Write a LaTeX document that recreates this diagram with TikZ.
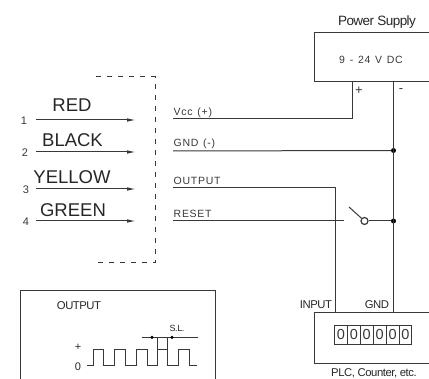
\documentclass[tikz,border=0pt]{standalone}
\usepackage{fontspec}
\setmainfont{Liberation Sans}
\newfontfamily\widefont[LetterSpace=7,WordSpace=1.3]{Liberation Sans}
\newfontfamily\tightfont[LetterSpace=-4]{Liberation Sans}
\usetikzlibrary{arrows.meta}
\definecolor{ink}{gray}{0.22}
\tikzset{
  wire/.style={draw=ink,line width=1pt},
  lead/.style={wire,-{Latex[length=9pt,width=3.5pt]}},
  dashbox/.style={draw=ink,line width=1pt,dash pattern=on 5pt off 6pt},
  boxnode/.style={draw=ink,line width=1pt,anchor=north west,inner sep=0pt,rectangle},
  dotnode/.style={circle,fill=black,inner sep=0pt,minimum size=5pt},
  colour/.style={font=\fontsize{18.5}{20}\selectfont,text=black!85,inner sep=0pt},
  pin/.style={font=\fontsize{11}{12}\selectfont,text=ink,inner sep=0pt},
  signal/.style={font=\widefont\fontsize{10.5}{11}\selectfont,text=ink,inner sep=0pt,anchor=west},
  small/.style={font=\tightfont\fontsize{11.3}{12}\selectfont,text=black!85,inner sep=0pt},
  digit/.style={draw=ink,line width=1pt,minimum width=12.9pt,minimum height=19pt,inner sep=0pt,anchor=north west,font=\fontsize{14.5}{15}\selectfont,text=ink},
}
\begin{document}
\begin{tikzpicture}[x=1pt,y=-1pt]
\useasboundingbox (0,0) rectangle (429,379);
\clip (0,0) rectangle (429,379);
% dashed connector outline
\coordinate (dtl) at (96,77);
\coordinate (dtr) at (155,77);
\coordinate (dbr) at (155,263);
\coordinate (dbl) at (96,263);
\draw[dashbox] (dtl) -- (dtr) -- (dbr) -- (dbl);
% leads
\foreach \n/\y in {1/120,2/152,3/189,4/221}{
  \coordinate (ls\n) at (36,\y);
  \coordinate (le\n) at (136,\y);
  \draw[lead] (ls\n) -- (le\n);
}
\node[pin] (n1) at (24,120.5) {1};
\node[pin] (n2) at (25,153) {2};
\node[pin] (n3) at (26,189.5) {3};
\node[pin] (n4) at (26,221.5) {4};
\node[colour] (red) at (72,105.5) {RED};
\node[colour] (black) at (72.5,140.5) {BLACK};
\node[colour] (yellow) at (72,177.5) {YELLOW};
\node[colour] (green) at (73,210.5) {GREEN};
% signal labels
\node[signal] (vcc) at (173.5,112.5) {Vcc (+)};
\node[signal] (gnd) at (173.5,144) {GND (-)};
\node[signal] (out) at (173.5,180.5) {OUTPUT};
\node[signal] (rst) at (173.5,214) {RESET};
% power supply
\node[boxnode,minimum width=140pt,minimum height=49pt] (ps) at (313.5,32) {};
\node[font=\tightfont\fontsize{13.5}{15}\selectfont,text=black!85,inner sep=0pt] (pst) at (377,22) {Power Supply};
\node[font=\widefont\fontsize{10.5}{12}\selectfont,text=ink,inner sep=0pt] (psv) at (371,60) {9 - 24 V DC};
\node[font=\fontsize{13}{14}\selectfont,text=ink,inner sep=0pt] (pp) at (359,91) {+};
\node[font=\fontsize{13}{14}\selectfont,text=ink,inner sep=0pt] (pm) at (401,91) {-};
% PLC
\node[boxnode,minimum width=140pt,minimum height=51pt] (plc) at (313.5,312.5) {};
\foreach \i in {0,...,5}{
  \node[digit] (d\i) at ({334+12.9*\i},325) {0};
}
\node[small] (inp) at (316,305) {INPUT};
\node[small] (pgnd) at (377,305) {GND};
\node[small] (plct) at (374,373) {PLC, Counter, etc.};
% wiring junctions
\coordinate (vccS) at (173,119);
\coordinate (vccC) at (352.5,119);
\coordinate (vccT) at (352.5,81);
\coordinate (minT) at (393.5,81);
\coordinate (minB) at (393.5,312.5);
\coordinate (gndS) at (173,151);
\node[dotnode] (dg) at (393.5,150.5) {};
\coordinate (outS) at (173,188);
\coordinate (outC) at (335.5,188);
\coordinate (outB) at (335.5,312.5);
\coordinate (rstS) at (173,221);
\coordinate (rstE) at (344,221);
\node[draw=ink,line width=1.2pt,circle,inner sep=0pt,minimum size=7pt] (sw) at (364.5,221) {};
\coordinate (arm) at (349,207);
\node[dotnode] (dr) at (393.5,221) {};
\draw[wire] (vccS) -- (vccC) -- (vccT);
\draw[wire] (minT) -- (minB);
\draw[wire] (gndS) -- (dg);
\draw[wire] (outS) -- (outC) -- (outB);
\draw[wire] (rstS) -- (rstE);
\draw[wire] (arm) -- (sw);
\draw[wire] (sw) -- (dr);
% output inset
\node[boxnode,minimum width=195pt,minimum height=110pt] (ob) at (19.5,290.5) {};
\node[small] (ot) at (79,306) {OUTPUT};
\node[font=\tightfont\fontsize{9}{10}\selectfont,text=black!85,inner sep=0pt] (sl) at (177,328) {S.L.};
\node[small,font=\fontsize{11}{12}\selectfont] (wp) at (78,347) {+};
\node[small,font=\fontsize{11}{12}\selectfont] (w0) at (78,367) {0};
\coordinate (bs) at (142,337.5);
\coordinate (be) at (198,337.5);
\draw[wire] (bs) -- (be);
\node[circle,fill=black,inner sep=0pt,minimum size=3.5pt] (sa) at (152,337.5) {};
\node[circle,fill=black,inner sep=0pt,minimum size=3.5pt] (sb) at (172,337.5) {};
\coordinate (v1a) at (157,337.5);
\coordinate (v1b) at (157,358);
\coordinate (v2a) at (167,337.5);
\coordinate (v2b) at (167,358);
\draw[wire] (v1a) -- (v1b);
\draw[wire] (v2a) -- (v2b);
\draw[wire] (87,366) -- (93,366) -- (93,350) -- (103,350) -- (103,366) -- (114,366) -- (114,350) -- (125,350) -- (125,366) -- (136,366) -- (136,350) -- (147,350) -- (147,366) -- (157,366) -- (157,350) -- (167,350) -- (167,366) -- (178,366) -- (178,350) -- (189,350) -- (189,366) -- (197,366);
\end{tikzpicture}
\end{document}
